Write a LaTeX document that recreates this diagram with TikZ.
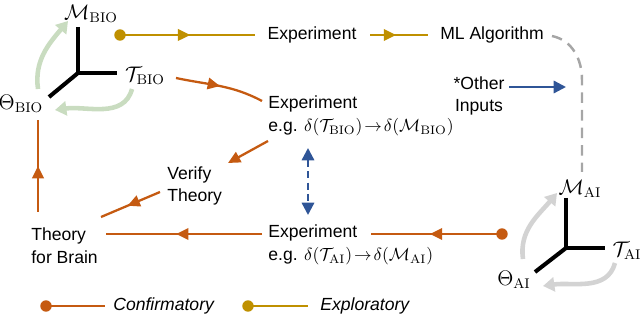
\documentclass[tikz,border=0pt]{standalone}
\usepackage[no-math]{fontspec}
\setmainfont{Liberation Sans}
\usetikzlibrary{arrows.meta,decorations.markings}
\definecolor{corange}{HTML}{C55A11}
\definecolor{cgold}{HTML}{BF9000}
\definecolor{cblue}{HTML}{2F5597}
\definecolor{cgreen}{HTML}{C9DCC0}
\definecolor{cgrayarr}{HTML}{D3D3D3}
\definecolor{cdash}{HTML}{A6A6A6}
\tikzset{
  midarrow/.style={postaction={decorate},decoration={markings,mark=at position #1 with {\arrow{Triangle[length=7pt,width=6.5pt]}}}},
  conf/.style={draw=corange, line width=1.3pt},
  expl/.style={draw=cgold, line width=1.3pt},
  axisline/.style={line width=2.3pt, black},
  cyc/.style={line width=2.6pt, -{Triangle[length=6.5pt,width=8pt]}},
  dotnode/.style={circle, fill=#1, inner sep=0pt, minimum size=6.5pt},
  txt/.style={inner sep=0pt, font=\fontsize{10}{13}\selectfont},
  mlbl/.style={inner sep=0pt, font=\fontsize{11.5}{13}\selectfont},
}
\newcommand{\tightto}{\mskip2mu{\rightarrow}\mskip2mu}
\begin{document}
\begin{tikzpicture}[x=0.02cm,y=-0.02cm]
\useasboundingbox (0,0) rectangle (640,317);
% ---------- BIO axes ----------
\coordinate (OB) at (78,73);
\coordinate (OBu) at (78,27);
\coordinate (OBr) at (117,73);
\coordinate (OBl) at (49,97);
\draw[axisline] (OBu) -- (OB) -- (OBr);
\draw[axisline] (OB) -- (OBl);
\node[mlbl] (MB) at (91,14) {$\mathcal{M}_{\mathrm{BIO}}$};
\node[mlbl] (TB) at (145,76) {$\mathcal{T}_{\mathrm{BIO}}$};
\node[mlbl] (ThB) at (21,104) {$\Theta_{\mathrm{BIO}}$};
\coordinate (gb1s) at (38,89);
\coordinate (gb1e) at (68,21);
\coordinate (gb2s) at (132,89);
\coordinate (gb2e) at (55,110);
\draw[cyc, cgreen] (gb1s) to[out=98,in=-130] (gb1e);
\draw[cyc, cgreen] (gb2s) to[out=-105,in=8] (gb2e);
% ---------- AI axes ----------
\coordinate (OA) at (566,248);
\coordinate (OAu) at (566,198);
\coordinate (OAr) at (605,248);
\coordinate (OAl) at (535,272);
\draw[axisline] (OAu) -- (OA) -- (OAr);
\draw[axisline] (OA) -- (OAl);
\node[mlbl] (MA) at (580,189) {$\mathcal{M}_{\mathrm{AI}}$};
\node[mlbl] (TA) at (627,251) {$\mathcal{T}_{\mathrm{AI}}$};
\node[mlbl] (ThA) at (514,280) {$\Theta_{\mathrm{AI}}$};
\coordinate (ga1s) at (523,259);
\coordinate (ga1e) at (557,193);
\coordinate (ga2s) at (615,263);
\coordinate (ga2e) at (543,286);
\draw[cyc, cgrayarr] (ga1s) to[out=98,in=-130] (ga1e);
\draw[cyc, cgrayarr] (ga2s) to[out=-105,in=8] (ga2e);
% ---------- text nodes ----------
\node[txt] (ExpTop) at (312,35) {Experiment};
\node[txt] (ML) at (492,35) {ML Algorithm};
\node[txt, align=center] (Other) at (479,96) {*Other\\Inputs};
\node[txt, align=left, anchor=west] (ExpB) at (268,116) {Experiment\\e.g. $\delta(\mathcal{T}_{\mathrm{BIO}})\tightto\delta(\mathcal{M}_{\mathrm{BIO}})$};
\node[txt, align=left, anchor=west] (Ver) at (167,186) {Verify\\Theory};
\node[txt, align=left, anchor=west] (Th) at (31,246) {Theory\\for Brain};
\node[txt, align=left, anchor=west] (ExpA) at (268,245) {Experiment\\e.g. $\delta(\mathcal{T}_{\mathrm{AI}})\tightto\delta(\mathcal{M}_{\mathrm{AI}})$};
% ---------- exploratory (gold) ----------
\node[dotnode=cgold] (gdot) at (120,35) {};
\coordinate (g1e) at (255,35);
\draw[expl, midarrow=0.52] (gdot.center) -- (g1e);
\coordinate (g2s) at (370,35);
\coordinate (g2e) at (428,35);
\draw[expl, midarrow=0.45] (g2s) -- (g2e);
% ---------- ML dashed to AI ----------
\coordinate (d1) at (552,36);
\coordinate (d2) at (582,80);
\coordinate (d3) at (582,172);
\draw[cdash, line width=1.4pt, dash pattern=on 6pt off 4pt] (d1) to[out=-12,in=90] (d2) -- (d3);
% ---------- other inputs ----------
\coordinate (oi1) at (509,87);
\coordinate (oi2) at (566,87);
\draw[cblue, line width=1.3pt, -{Triangle[length=7pt,width=7pt]}] (oi1) -- (oi2);
% ---------- blue dashed double arrow ----------
\coordinate (bv1) at (308,148);
\coordinate (bv2) at (308,215);
\draw[cblue, line width=1.3pt, dash pattern=on 4pt off 2.5pt, {Triangle[length=7pt,width=7pt]}-{Triangle[length=7pt,width=7pt]}] (bv1) -- (bv2);
% ---------- confirmatory (orange) ----------
\coordinate (o1s) at (176,78);
\coordinate (o1e) at (262,101);
\draw[conf, midarrow=0.5] (o1s) to[out=-12,in=152] (o1e);
\coordinate (o2s) at (268,141);
\coordinate (o2e) at (228,163);
\draw[conf, -{Triangle[length=7pt,width=6.5pt]}] (o2s) -- (o2e);
\coordinate (o3s) at (160,192);
\coordinate (o3e) at (101,217);
\draw[conf, midarrow=0.55] (o3s) -- (o3e);
\coordinate (o4s) at (38,212);
\coordinate (o4e) at (38,120);
\draw[conf, midarrow=0.5] (o4s) -- (o4e);
\coordinate (o5s) at (262,234);
\coordinate (o5e) at (106,234);
\draw[conf, midarrow=0.55] (o5s) -- (o5e);
\node[dotnode=corange] (odot) at (502,234) {};
\coordinate (o6e) at (371,234);
\draw[conf, midarrow=0.55] (odot.center) -- (o6e);
% ---------- legend ----------
\node[dotnode=corange] (ldot1) at (46,306) {};
\coordinate (l1e) at (105,306);
\draw[conf] (ldot1.center) -- (l1e);
\node[txt, anchor=west, font=\fontsize{10}{13}\selectfont\itshape] (lt1) at (113,306) {Confirmatory};
\node[dotnode=cgold] (ldot2) at (248,306) {};
\coordinate (l2e) at (308,306);
\draw[expl] (ldot2.center) -- (l2e);
\node[txt, anchor=west, font=\fontsize{10}{13}\selectfont\itshape] (lt2) at (320,306) {Exploratory};
\end{tikzpicture}
\end{document}
